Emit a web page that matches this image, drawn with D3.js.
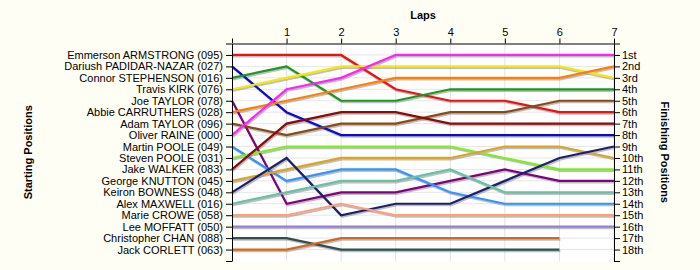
<!DOCTYPE html>
<html>
<head>
<meta charset="utf-8">
<script src="https://d3js.org/d3.v7.min.js"></script>
<style>
  body { margin: 0; background: #fffef4; }
  text { font-family: Arial, "Liberation Sans", sans-serif; }
  .axis path, .axis line { stroke: #000; }
  .axis text { font-size: 11px; fill: #000; }
  .title { font-size: 11px; font-weight: bold; }
</style>
</head>
<body>
<script>
// starting grid, in starting order
var drivers = [
  "Emmerson ARMSTRONG (095)", "Dariush PADIDAR-NAZAR (027)", "Connor STEPHENSON (016)",
  "Travis KIRK (076)", "Joe TAYLOR (078)", "Abbie CARRUTHERS (028)", "Adam TAYLOR (096)",
  "Oliver RAINE (000)", "Martin POOLE (049)", "Steven POOLE (031)", "Jake WALKER (083)",
  "George KNUTTON (045)", "Keiron BOWNESS (048)", "Alex MAXWELL (016)", "Marie CROWE (058)",
  "Lee MOFFATT (050)", "Christopher CHAN (088)", "Jack CORLETT (063)"
];

// position at lap 0 (start) .. last lap completed
var positions = [
  [1, 1, 1, 4, 5, 5, 6, 6],
  [2, 6, 8, 8, 8, 8, 8, 8],
  [3, 2, 5, 5, 4, 4, 4, 4],
  [4, 3, 2, 2, 2, 2, 2, 3],
  [5, 14, 13, 13, 12, 11, 12, 12],
  [6, 5, 4, 3, 3, 3, 3, 2],
  [7, 8, 7, 7, 6, 6, 5, 5],
  [8, 4, 3, 1, 1, 1, 1, 1],
  [9, 12, 11, 11, 13, 14, 14, 14],
  [10, 9, 9, 9, 9, 10, 11, 11],
  [11, 7, 6, 6, 7, 7, 7, 7],
  [12, 11, 10, 10, 10, 9, 9, 10],
  [13, 10, 15, 14, 14, 12, 10, 9],
  [14, 13, 12, 12, 11, 13, 13, 13],
  [15, 15, 14, 15, 15, 15, 15, 15],
  [16, 16, 16, 16, 16, 16, 16, 16],
  [17, 17, 18, 18, 18, 18, 18],
  [18, 18, 17, 17, 17, 17, 17]
];

var laps = [0, 1, 2, 3, 4, 5, 6, 7];
var finishLabels = ["1st", "2nd", "3rd", "4th", "5th", "6th", "7th", "8th", "9th",
  "10th", "11th", "12th", "13th", "14th", "15th", "16th", "17th", "18th"];

var colors = ["#ee1111", "#0a0ad0", "#1a9a1a", "#f5e80a", "#800080", "#ff8000",
  "#8b4a14", "#ff22ff", "#2f95ff", "#7cf01a", "#8b0a0a", "#daa520",
  "#1e1e6e", "#66c2a5", "#ffa07a", "#9a7fd6", "#2f4f4f", "#d2691e"];

var width = 700, height = 270;
var plotLeft = 232, plotRight = 614, plotTop = 43.5, plotBottom = 261;

var svg = d3.select("body").append("svg")
  .attr("width", width)
  .attr("height", height);

var x = d3.scaleLinear().domain([0, 7]).range([plotLeft, plotRight]);
var y = d3.scaleLinear().domain([0, 19]).range([plotTop, plotBottom]);
var rows = d3.range(0, 20);

svg.append("rect")
  .attr("x", plotLeft).attr("y", plotTop)
  .attr("width", plotRight - plotLeft).attr("height", plotBottom - plotTop)
  .attr("fill", "#ffffff");

// grid
svg.append("g").selectAll("line")
  .data(laps.slice(1))
  .enter().append("line")
  .attr("x1", function(d) { return x(d); })
  .attr("x2", function(d) { return x(d); })
  .attr("y1", plotTop).attr("y2", plotBottom)
  .attr("stroke", "#e2e2e2");

svg.append("g").selectAll("line")
  .data(d3.range(1, 19))
  .enter().append("line")
  .attr("x1", plotLeft).attr("x2", plotRight)
  .attr("y1", function(d) { return y(d); })
  .attr("y2", function(d) { return y(d); })
  .attr("stroke", "#e6e6e6");

var line = d3.line()
  .x(function(d, i) { return x(i); })
  .y(function(d) { return y(d); });

// shadows first, then coloured lines
svg.append("g")
  .attr("transform", "translate(1,1.5)")
  .selectAll("path")
  .data(positions)
  .enter().append("path")
  .attr("d", line)
  .attr("fill", "none")
  .attr("stroke", "#888")
  .attr("stroke-opacity", 0.55)
  .attr("stroke-width", 2.2);

svg.append("g").selectAll("path")
  .data(positions)
  .enter().append("path")
  .attr("d", line)
  .attr("fill", "none")
  .attr("stroke", function(d, i) { return colors[i]; })
  .attr("stroke-width", 2.2);

// axes
var topAxis = d3.axisTop(x)
  .tickValues(laps)
  .tickSize(5)
  .tickSizeOuter(0)
  .tickFormat(function(d) { return d === 0 ? "" : d; });

svg.append("g")
  .attr("class", "axis")
  .attr("transform", "translate(0," + plotTop + ")")
  .call(topAxis);

var leftAxis = d3.axisLeft(y)
  .tickValues(rows)
  .tickSize(6)
  .tickSizeOuter(0)
  .tickPadding(3)
  .tickFormat(function(d) { return drivers[d - 1] || ""; });

svg.append("g")
  .attr("class", "axis")
  .attr("transform", "translate(" + plotLeft + ",0)")
  .call(leftAxis);

var rightAxis = d3.axisRight(y)
  .tickValues(rows)
  .tickSize(6)
  .tickSizeOuter(0)
  .tickPadding(2)
  .tickFormat(function(d) { return finishLabels[d - 1] || ""; });

svg.append("g")
  .attr("class", "axis")
  .attr("transform", "translate(" + plotRight + ",0)")
  .call(rightAxis);

// titles
svg.append("text")
  .attr("class", "title")
  .attr("x", (plotLeft + plotRight) / 2)
  .attr("y", 19)
  .attr("text-anchor", "middle")
  .text("Laps");

svg.append("text")
  .attr("class", "title")
  .attr("transform", "translate(32," + (plotTop + plotBottom) / 2 + ") rotate(-90)")
  .attr("text-anchor", "middle")
  .text("Starting Positions");

svg.append("text")
  .attr("class", "title")
  .attr("transform", "translate(661," + (plotTop + plotBottom) / 2 + ") rotate(90)")
  .attr("text-anchor", "middle")
  .text("Finishing Positions");
</script>
</body>
</html>
